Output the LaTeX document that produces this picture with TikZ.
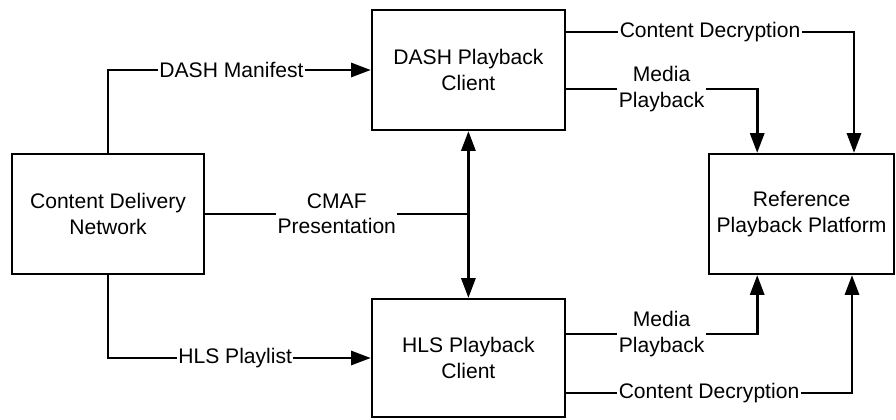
\documentclass[tikz,border=0pt]{standalone}
\usepackage{fontspec}
\setmainfont{Liberation Sans}
\usetikzlibrary{arrows.meta}
\tikzset{
  blk/.style={draw, line width=1.6pt, minimum width=4.8cm, minimum height=3cm, align=center},
  lbl/.style={fill=white, inner sep=1pt, align=center},
  tip/.style={Triangle[length=14pt,width=10pt]},
  flow/.style={line width=1.9pt, -{Triangle[length=14pt,width=10pt]}}
}
\begin{document}
\begin{tikzpicture}[font=\fontsize{15}{18}\selectfont]
      \useasboundingbox (0,0) rectangle (22.4,-10.475);
      \node[blk] (cdn) at (2.7,-5.35) {Content Delivery\\Network};
      \node[blk, minimum width=4.825cm] (dash) at (11.71,-1.75) {DASH Playback\\Client};
      \node[blk, minimum width=4.825cm, minimum height=2.95cm] (hls) at (11.71,-8.95) {HLS Playback\\Client};
      \node[blk, minimum width=4.625cm] (ref) at (20.04,-5.35) {Reference\\Playback Platform};
      \coordinate (junc) at (cdn.east -| dash.south);
      \begin{scope}[flow]
        \draw (cdn.north) |- node[lbl, pos=0.735] {DASH Manifest} (dash.west);
        \draw (cdn.south) |- node[lbl, pos=0.742] {HLS Playlist} (hls.west);
        \draw[-] (cdn.east) -- node[lbl] {CMAF\\Presentation} (junc);
        \draw[{Triangle[length=14pt,width=10pt]}-{Triangle[length=14pt,width=10pt]}] (dash.south) -- (hls.north);
        \draw ([yshift=0.95cm]dash.east) -| node[lbl, pos=0.25] {Content Decryption} ([xshift=1.31cm]ref.north);
        \draw ([yshift=-0.475cm]dash.east) -| node[lbl, pos=0.25] {Media\\Playback} ([xshift=-1.11cm]ref.north);
        \draw ([yshift=0.6cm]hls.east) -| node[lbl, pos=0.25] {Media\\Playback} ([xshift=-1.11cm]ref.south);
        \draw ([yshift=-0.875cm]hls.east) -| node[lbl, pos=0.25] {Content Decryption} ([xshift=1.26cm]ref.south);
      \end{scope}
    \end{tikzpicture}
\end{document}
